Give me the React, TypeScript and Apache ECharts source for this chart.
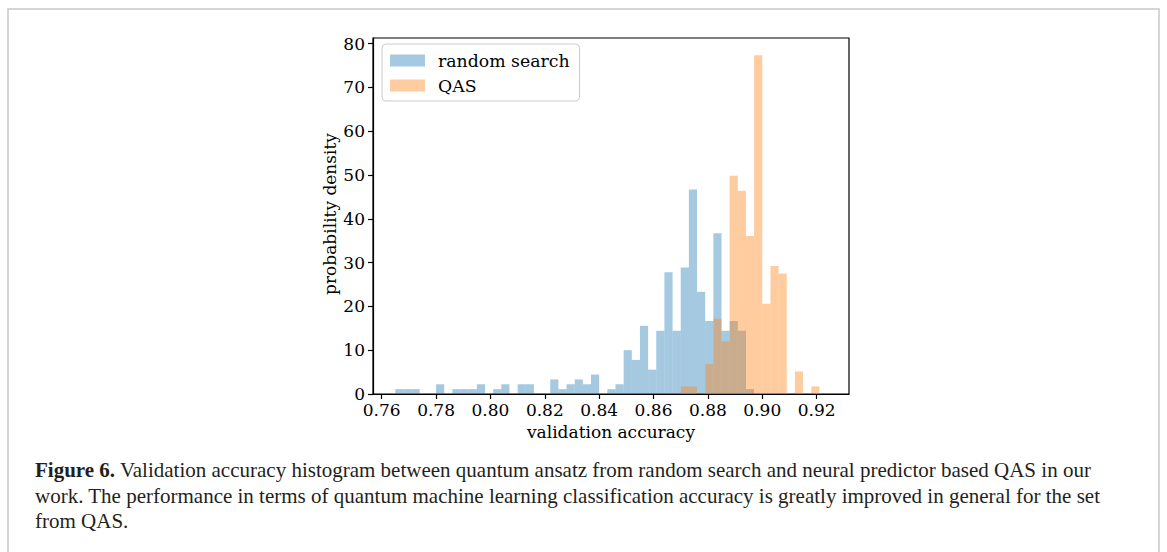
import React, { useEffect, useRef } from "react";
import * as echarts from "echarts";

// Histogram bin edges (validation accuracy)
const binEdges = [
  0.765, 0.768, 0.771, 0.774, 0.777, 0.78, 0.783, 0.786, 0.789, 0.792,
  0.795, 0.798, 0.801, 0.804, 0.807, 0.81, 0.813, 0.816, 0.819, 0.822,
  0.825, 0.828, 0.831, 0.834, 0.837, 0.84, 0.843, 0.846, 0.849, 0.852,
  0.855, 0.858, 0.861, 0.864, 0.867, 0.87, 0.873, 0.876, 0.879, 0.882,
  0.885, 0.888, 0.891, 0.894, 0.897, 0.9, 0.903, 0.906, 0.909, 0.912,
  0.915, 0.918, 0.921,
];

// Probability density per bin, random search
const randomSearch = [
  1.11, 1.11, 1.11, 0, 0, 2.22, 0, 1.11, 1.11, 1.11,
  2.22, 0, 1.11, 2.22, 0, 2.22, 2.22, 0, 0, 3.33,
  1.11, 2.22, 3.33, 2.22, 4.44, 0, 1.11, 2.22, 10.0, 7.78,
  15.56, 5.56, 14.44, 27.78, 14.44, 28.89, 46.67, 23.33, 16.67, 36.67,
  14.44, 16.67, 14.44, 1.11, 0, 0, 0, 0, 0, 0,
  0, 0,
];

// Probability density per bin, QAS
const qas = [
  0, 0, 0, 0, 0, 0, 0, 0, 0, 0,
  0, 0, 0, 0, 0, 0, 0, 0, 0, 0,
  0, 0, 0, 0, 0, 0, 0, 0, 0, 0,
  0, 0, 0, 0, 0, 1.72, 1.72, 0, 6.87, 17.18,
  12.03, 49.83, 46.39, 36.08, 77.32, 20.62, 29.21, 27.49, 0, 5.15,
  0, 1.72,
];

const xTicks = [0.76, 0.78, 0.8, 0.82, 0.84, 0.86, 0.88, 0.9, 0.92];
const yTicks = [0, 10, 20, 30, 40, 50, 60, 70, 80];

const seriesNames = ["random search", "QAS"];
const captionBold = "Figure 6.";
const captionLines = [
  " Validation accuracy histogram between quantum ansatz from random search and neural predictor based QAS in our",
  "work. The performance in terms of quantum machine learning classification accuracy is greatly improved in general for the set",
  "from QAS.",
];

const SERIF = "'DejaVu Serif', serif";
const CAPTION_FONT = "'Liberation Serif', 'Times New Roman', serif";
const CAPTION_SIZE = 21;

function toBins(values: number[]) {
  const out: number[][] = [];
  values.forEach((v, i) => {
    if (v > 0) out.push([binEdges[i], binEdges[i + 1], v]);
  });
  return out;
}

function makeRender(color: string) {
  return (params: any, api: any) => {
    const x0 = api.value(0);
    const x1 = api.value(1);
    const v = api.value(2);
    const p0 = api.coord([x0, 0]);
    const p1 = api.coord([x1, v]);
    return {
      type: "rect",
      shape: { x: p0[0], y: p1[1], width: p1[0] - p0[0], height: p0[1] - p1[1] },
      style: { fill: color },
    };
  };
}

export default function App() {
  const ref = useRef<HTMLDivElement>(null);
  useEffect(() => {
    document.body.style.margin = "0";
    if (!ref.current) return;
    const chart = echarts.init(ref.current, undefined, { renderer: "svg" });
    const blue = "rgba(31,119,180,0.4)";
    const orange = "rgba(255,127,14,0.4)";
    const captionText = (text: string, y: number, rich?: any) => ({
      type: "text",
      x: 35,
      y,
      style: {
        text,
        rich,
        fontFamily: CAPTION_FONT,
        fontSize: CAPTION_SIZE,
        fill: "#231f20",
        align: "left",
        verticalAlign: "middle",
      },
    });
    chart.setOption({
      animation: false,
      backgroundColor: "#ffffff",
      grid: {
        left: 373,
        right: 318,
        top: 38,
        bottom: 158,
        show: true,
        borderColor: "#000",
        borderWidth: 1.2,
        backgroundColor: "transparent",
      },
      xAxis: {
        type: "value",
        min: 0.7568,
        max: 0.9319,
        axisLine: { show: true, lineStyle: { color: "#000", width: 1.2 } },
        axisTick: {
          show: true,
          customValues: xTicks,
          length: 5,
          lineStyle: { color: "#000", width: 1.2 },
        },
        axisLabel: {
          customValues: xTicks,
          formatter: (v: number) => v.toFixed(2),
          fontFamily: SERIF,
          fontSize: 17,
          color: "#000",
          margin: 7,
        },
        splitLine: { show: false },
      },
      yAxis: {
        type: "value",
        min: 0,
        max: 81.27,
        axisLine: { show: true, lineStyle: { color: "#000", width: 1.2 } },
        axisTick: {
          show: true,
          customValues: yTicks,
          length: 5,
          lineStyle: { color: "#000", width: 1.2 },
        },
        axisLabel: {
          customValues: yTicks,
          formatter: (v: number) => String(Math.round(v)),
          fontFamily: SERIF,
          fontSize: 17,
          color: "#000",
          margin: 8,
        },
        splitLine: { show: false },
      },
      legend: {
        orient: "vertical",
        left: 382,
        top: 44,
        data: seriesNames,
        icon: "rect",
        itemWidth: 35,
        itemHeight: 12,
        itemGap: 8,
        padding: [8, 10, 7, 8],
        borderColor: "#cccccc",
        borderWidth: 1,
        borderRadius: 4,
        backgroundColor: "rgba(255,255,255,0.8)",
        textStyle: {
          fontFamily: SERIF,
          fontSize: 17.3,
          color: "#000",
          lineHeight: 17,
          padding: [0, 0, 0, 8],
        },
      },
      series: [
        {
          name: seriesNames[0],
          type: "custom",
          renderItem: makeRender(blue),
          itemStyle: { color: blue },
          encode: { x: [0, 1], y: 2 },
          data: toBins(randomSearch),
          z: 2,
        },
        {
          name: seriesNames[1],
          type: "custom",
          renderItem: makeRender(orange),
          itemStyle: { color: orange },
          encode: { x: [0, 1], y: 2 },
          data: toBins(qas),
          z: 3,
        },
      ],
      graphic: [
        {
          type: "rect",
          shape: { x: 8, y: 9, width: 1151, height: 560 },
          style: { fill: "none", stroke: "#c8c8c8", lineWidth: 1.5 },
          silent: true,
        },
        {
          type: "text",
          x: 611,
          y: 432,
          style: {
            text: "validation accuracy",
            fontFamily: SERIF,
            fontSize: 17,
            fill: "#000",
            align: "center",
            verticalAlign: "middle",
          },
        },
        {
          type: "text",
          x: 330,
          y: 214,
          rotation: Math.PI / 2,
          style: {
            text: "probability density",
            fontFamily: SERIF,
            fontSize: 17,
            fill: "#000",
            align: "center",
            verticalAlign: "middle",
          },
        },
        captionText("{b|" + captionBold + "}" + captionLines[0], 470, {
          b: { fontWeight: "bold", fontFamily: CAPTION_FONT, fontSize: CAPTION_SIZE, fill: "#231f20" },
        }),
        captionText(captionLines[1], 495.5),
        captionText(captionLines[2], 521),
      ],
    });
    return () => chart.dispose();
  }, []);
  return <div ref={ref} style={{ width: 1167, height: 552 }} />;
}
